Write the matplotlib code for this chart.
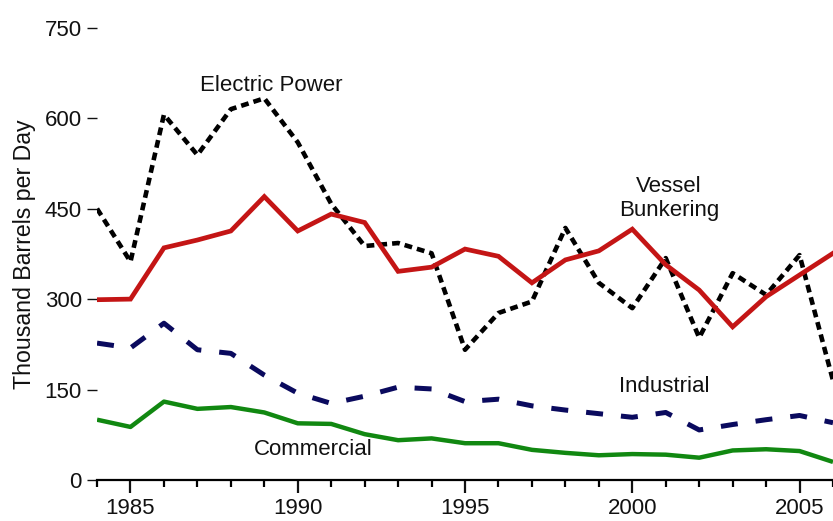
import numpy as np
import matplotlib
matplotlib.use("Agg")
import matplotlib.pyplot as plt
from matplotlib.ticker import MultipleLocator

plt.rcParams['font.family'] = ['Liberation Sans', 'DejaVu Sans']

years = list(range(1984, 2007))

electric_power = [450, 362, 606, 539, 615, 633, 560, 458, 388, 393, 376, 216, 277, 296,
                  418, 327, 285, 368, 236, 343, 307, 373, 165]
vessel_bunkering = [299, 300, 385, 398, 413, 470, 413, 441, 427, 346, 353, 383, 371, 327,
                    365, 380, 416, 357, 315, 254, 304, 340, 376]
industrial = [227, 219, 260, 216, 210, 174, 144, 127, 139, 154, 151, 130, 134, 123,
              116, 110, 104, 112, 83, 92, 100, 107, 95]
commercial = [100, 88, 130, 118, 121, 112, 94, 93, 76, 66, 69, 61, 61, 50,
              45, 41, 43, 42, 37, 49, 51, 48, 30]

fig = plt.figure(figsize=(8.33, 5.21), dpi=100)
ax = fig.add_axes([0.1165, 0.0787, 0.8835, 0.868])

# lines
ax.plot(years, commercial, color='#118811', lw=3.2, solid_capstyle='butt', zorder=2)
ax.plot(years, industrial, color='#0a0a5e', lw=3.6, dashes=(3.4, 3.6), zorder=3)
ax.plot(years, electric_power, color='black', lw=3.3, dashes=(1.7, 1.1), zorder=4)
ax.plot(years, vessel_bunkering, color='#c41515', lw=3.4, solid_joinstyle='miter', zorder=5)

# labels on the chart
fs = 16
ax.text(1989.2, 655, 'Electric Power', fontsize=fs, ha='center', va='center', color='#111111')
ax.text(2001.1, 467, 'Vessel\nBunkering', fontsize=fs, ha='center', va='center',
        color='#111111', linespacing=1.15)
ax.text(2000.95, 155, 'Industrial', fontsize=fs, ha='center', va='center', color='#111111')
ax.text(1990.45, 50, 'Commercial', fontsize=fs, ha='center', va='center', color='#111111')

ax.set_xlim(1984, 2006)
ax.set_ylim(0, 750)
ax.set_yticks([0, 150, 300, 450, 600, 750])
ax.xaxis.set_major_locator(MultipleLocator(5))
ax.xaxis.set_minor_locator(MultipleLocator(1))

for s in ['top', 'right', 'left']:
    ax.spines[s].set_visible(False)
ax.spines['bottom'].set_linewidth(1.6)
ax.spines['bottom'].set_color('black')

ax.tick_params(axis='y', direction='out', length=7, width=1.0, pad=4, labelsize=fs,
               colors='#111111')
ax.tick_params(axis='x', which='major', direction='out', length=9, width=1.6, pad=4,
               labelsize=fs, colors='#111111')
ax.tick_params(axis='x', which='minor', direction='out', length=5, width=1.6)

ax.set_ylabel('Thousand Barrels per Day', fontsize=16.7, color='#111111', labelpad=6)

fig.savefig('out.png', dpi=100)
